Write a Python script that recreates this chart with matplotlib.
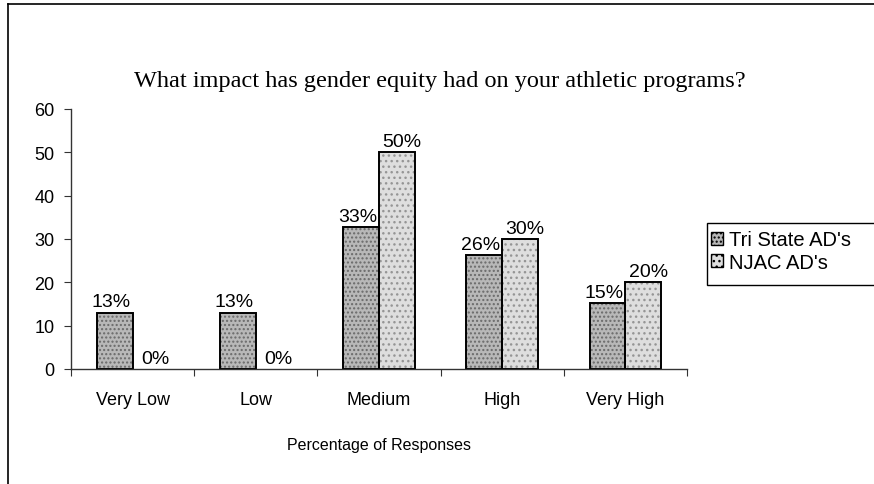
import matplotlib
matplotlib.use("Agg")
import matplotlib.pyplot as plt
import numpy as np
from matplotlib.lines import Line2D
from matplotlib.patches import Patch, Rectangle

categories = ["Very Low", "Low", "Medium", "High", "Very High"]
tri_state = [13, 13, 32.7, 26.3, 15.2]
njac = [0, 0, 50, 30, 20]
tri_labels = ["13%", "13%", "33%", "26%", "15%"]
njac_labels = ["0%", "0%", "50%", "30%", "20%"]
series_names = ["Tri State AD's", "NJAC AD's"]

SANS = ["Liberation Sans", "DejaVu Sans"]
SERIF = ["Liberation Serif", "DejaVu Serif"]

W, H = 874, 485
fig = plt.figure(figsize=(W / 100, H / 100), dpi=100)
ax = fig.add_axes([71 / W, 1 - 370 / H, (687 - 71) / W, (370 - 110) / H])

x = np.arange(len(categories))
w = 0.29

# stippled fill, then a black outline on top
ax.bar(x - w / 2, tri_state, w, color="#b8b8b8", edgecolor="#6a6a6a", hatch="....", linewidth=0)
ax.bar(x + w / 2, njac, w, color="#dedede", edgecolor="#959595", hatch="...", linewidth=0)
ax.bar(x - w / 2, tri_state, w, facecolor="none", edgecolor="black", linewidth=1.4)
ax.bar(x + w / 2, [v if v > 0 else np.nan for v in njac], w, facecolor="none", edgecolor="black", linewidth=1.4)

for xi, v, lab in zip(x, tri_state, tri_labels):
    ax.text(xi - w / 2 - 0.03, v + 0.5, lab, ha="center", va="bottom", fontsize=14, family=SANS)
for xi, v, lab in zip(x, njac, njac_labels):
    ax.text(xi + w / 2 + 0.04, v + 0.5, lab, ha="center", va="bottom", fontsize=14, family=SANS)

ax.set_xlim(-0.5, len(categories) - 0.5)
ax.set_ylim(0, 60)
ax.set_yticks(range(0, 61, 10))
ax.set_xticks(np.arange(-0.5, len(categories), 1.0))
ax.set_xticklabels([])
ax.set_xticks(x, minor=True)
ax.set_xticklabels(categories, minor=True, fontsize=13, family=SANS)
ax.tick_params(axis="x", which="minor", length=0, pad=16)
ax.tick_params(axis="x", which="major", length=5, direction="out", color="#333")
ax.tick_params(axis="y", length=5, direction="out", color="#333", labelsize=13, pad=7)
for t in ax.get_yticklabels():
    t.set_family(SANS)

for s in ["top", "right"]:
    ax.spines[s].set_visible(False)
for s in ["left", "bottom"]:
    ax.spines[s].set_color("#333")
    ax.spines[s].set_linewidth(1.0)

ax.set_xlabel("Percentage of Responses", fontsize=11.5, family=SANS, labelpad=21)

fig.text(440 / W, 1 - 82 / H, "What impact has gender equity had on your athletic programs?",
         ha="center", va="center", fontsize=17.5, family=SERIF)

# legend frame runs off the right edge, as in the scan
fig.patches.append(Rectangle((707 / W, 1 - 286 / H), 200 / W, 62 / H, transform=fig.transFigure,
                             facecolor="white", edgecolor="black", linewidth=1.0, clip_on=False))
handles = [Patch(facecolor="#b8b8b8", edgecolor="black", hatch="...."),
           Patch(facecolor="#dedede", edgecolor="black", hatch="...")]
fig.legend(handles, series_names, loc="center left", bbox_to_anchor=(711 / W, 1 - 252 / H),
           frameon=False, prop={"family": SANS, "size": 14.5}, handlelength=0.6, handleheight=0.6,
           handletextpad=0.3, labelspacing=0.15, borderaxespad=0, borderpad=0)

# outer chart border (left and top only visible)
fig.add_artist(Line2D([8 / W, 8 / W], [0, 1 - 5 / H], transform=fig.transFigure, color="black", lw=1.2))
fig.add_artist(Line2D([8 / W, 1], [1 - 5 / H, 1 - 5 / H], transform=fig.transFigure, color="black", lw=1.2))

fig.savefig("out.png", dpi=100)
